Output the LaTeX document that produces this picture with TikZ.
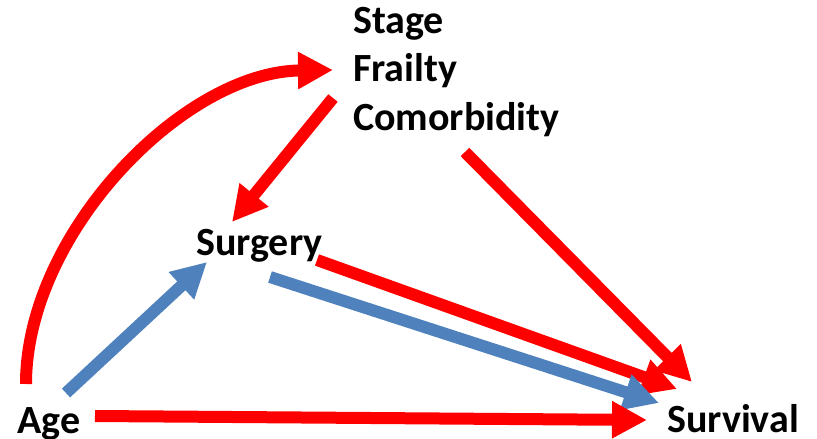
\documentclass[tikz,border=0pt]{standalone}
\usepackage{fontspec}
\setmainfont{Carlito}
\usetikzlibrary{arrows.meta}
\definecolor{arrred}{RGB}{255,0,0}
\definecolor{arrblue}{RGB}{79,129,189}
\begin{document}
\begin{tikzpicture}[x=1pt,y=-1pt,
  lbl/.style={font=\fontsize{40}{48.5}\selectfont\bfseries, inner sep=0pt, anchor=base west, align=left},
  conn/.style={line width=12pt, -{Triangle[length=35pt,width=35pt]}},
  redc/.style={conn, draw=arrred},
  bluec/.style={conn, draw=arrblue}]
\useasboundingbox (0,0) rectangle (817,439);
% nodes
\node[lbl] (stage) at (353,130) {Stage\\Frailty\\Comorbidity};
\node[lbl] (surgery) at (196,255) {Surgery};
\node[lbl] (age) at (17,433) {Age};
\node[lbl] (survival) at (667,432) {Survival};
% connector ends
\coordinate (ageTop) at (26,384);
\coordinate (ageRight) at (95,416);
\coordinate (ageNE) at (66,393);
\coordinate (stageIn) at (333,70);
\coordinate (stageOut) at (333,98);
\coordinate (comorbOut) at (465,152);
\coordinate (surgIn) at (232,222);
\coordinate (surgInB) at (207,262);
\coordinate (surgOutR) at (317,260);
\coordinate (surgOutB) at (270,277);
\coordinate (survA) at (647,420);
\coordinate (survB) at (659,403);
\coordinate (survR) at (677,389);
\coordinate (survC) at (692,382);
% connectors
\draw[redc] (ageTop) .. controls (26,234) and (183,72) .. (stageIn);
\draw[redc] (stageOut) -- (surgIn);
\draw[redc] (comorbOut) -- (survC);
\draw[redc] (surgOutR) -- (survR);
\draw[bluec] (surgOutB) -- (survB);
\draw[bluec] (ageNE) -- (surgInB);
\draw[redc] (ageRight) -- (survA);
\end{tikzpicture}
\end{document}
